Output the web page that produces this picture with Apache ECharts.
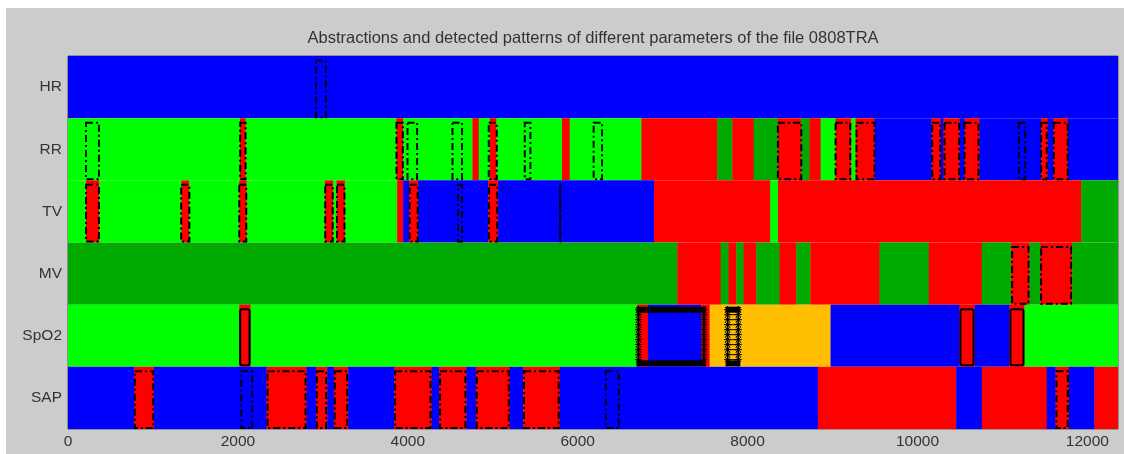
<!DOCTYPE html>
<html>
<head>
<meta charset="utf-8">
<script src="https://cdn.jsdelivr.net/npm/echarts@6/dist/echarts.min.js"></script>
<style>
html,body{margin:0;padding:0;background:#ffffff;width:1124px;height:454px;overflow:hidden;}
#chart{position:absolute;left:6px;top:8px;width:1118px;height:446px;background:#cccccc;}
</style>
</head>
<body>
<div id="chart"></div>
<script>
// ---------- data ----------
const titleText = 'Abstractions and detected patterns of different parameters of the file 0808TRA';
const categories = ['HR', 'RR', 'TV', 'MV', 'SpO2', 'SAP'];
const xTicks = [0, 2000, 4000, 6000, 8000, 10000, 12000];
const xMax = 12360;

// segments: [start, end, state]  (B=blue, G=green, D=dark green, R=red, O=orange)
const hrSegments = [[0, 12360, 'B']];
const rrSegments = [
  [0, 2024, 'G'], [2024, 2090, 'R'], [2090, 3866, 'G'], [3866, 3945, 'R'], [3945, 4761, 'G'],
  [4761, 4835, 'R'], [4835, 4965, 'G'], [4965, 5043, 'R'], [5043, 5815, 'G'], [5815, 5906, 'R'],
  [5906, 6749, 'G'], [6749, 7643, 'R'], [7643, 7820, 'D'], [7820, 8071, 'R'], [8071, 8356, 'D'],
  [8356, 8631, 'R'], [8631, 8729, 'D'], [8729, 8859, 'R'], [8859, 9035, 'G'], [9035, 9220, 'R'],
  [9220, 9271, 'G'], [9271, 9494, 'R'], [9494, 10165, 'B'], [10165, 10271, 'R'], [10271, 10306, 'B'],
  [10306, 10494, 'R'], [10494, 10553, 'B'], [10553, 10729, 'R'], [10729, 11455, 'B'], [11455, 11533, 'R'],
  [11533, 11600, 'B'], [11600, 11768, 'R'], [11768, 12360, 'B']
];
const tvSegments = [
  [0, 212, 'G'], [212, 368, 'R'], [368, 1337, 'G'], [1337, 1427, 'R'], [1427, 2015, 'G'],
  [2015, 2102, 'R'], [2102, 3024, 'G'], [3024, 3121, 'R'], [3121, 3161, 'G'], [3161, 3259, 'R'],
  [3259, 3874, 'G'], [3874, 3945, 'R'], [3945, 4015, 'B'], [4015, 4121, 'R'], [4121, 4945, 'B'],
  [4945, 5063, 'R'], [5063, 6898, 'B'], [6898, 8267, 'R'], [8267, 8357, 'G'], [8357, 11926, 'R'],
  [11926, 12360, 'D']
];
const mvSegments = [
  [0, 7173, 'D'], [7173, 7682, 'R'], [7682, 7776, 'D'], [7776, 7867, 'R'], [7867, 7953, 'D'],
  [7953, 8102, 'R'], [8102, 8376, 'D'], [8376, 8573, 'R'], [8573, 8738, 'D'], [8738, 9553, 'R'],
  [9553, 10133, 'D'], [10133, 10757, 'R'], [10757, 11102, 'D'], [11102, 11318, 'R'], [11318, 11443, 'D'],
  [11443, 11820, 'R'], [11820, 12360, 'D']
];
const spo2Segments = [
  [0, 2015, 'G'], [2015, 2149, 'R'], [2149, 6700, 'G'], [6700, 6827, 'R'], [6827, 7455, 'B'],
  [7455, 7553, 'R'], [7553, 8976, 'O'], [8976, 10494, 'B'], [10494, 10671, 'R'], [10671, 11082, 'B'],
  [11082, 11259, 'R'], [11259, 12360, 'G']
];
const sapSegments = [
  [0, 776, 'B'], [776, 1012, 'R'], [1012, 2337, 'B'], [2337, 2808, 'R'], [2808, 2918, 'B'],
  [2918, 3051, 'R'], [3051, 3129, 'B'], [3129, 3298, 'R'], [3298, 3839, 'B'], [3839, 4279, 'R'],
  [4279, 4368, 'B'], [4368, 4690, 'R'], [4690, 4800, 'B'], [4800, 5200, 'R'], [5200, 5357, 'B'],
  [5357, 5788, 'R'], [5788, 8827, 'B'], [8827, 10455, 'R'], [10455, 10757, 'B'], [10757, 11521, 'R'],
  [11521, 11624, 'B'], [11624, 11780, 'R'], [11780, 12082, 'B'], [12082, 12360, 'R']
];

// detected patterns (dash-dot boxes): [start, end]
const hrPatterns = [[2906, 3047]];
const rrPatterns = [
  [200, 376], [2015, 2102], [3855, 3953], [3985, 4121], [4514, 4650], [4941, 5059], [5365, 5455],
  [6176, 6298], [8345, 8643], [9024, 9220], [9271, 9506], [10161, 10279], [10306, 10502],
  [10541, 10729], [11180, 11279], [11443, 11533], [11592, 11780]
];
const tvPatterns = [
  [200, 376], [1320, 1440], [2004, 2110], [3016, 3128], [3155, 3266], [4010, 4128], [4580, 4650],
  [4945, 5063], [5780, 5806]
];
const mvPatterns = [[11102, 11318], [11443, 11820]];
const sapPatterns = [
  [776, 1012], [2028, 2180], [2337, 2808], [2918, 3051], [3129, 3298], [3839, 4279], [4368, 4690],
  [4800, 5200], [5357, 5788], [6318, 6494], [11624, 11780]
];
// SpO2 solid boxes and starred boxes
const spo2SolidPatterns = [[2015, 2149], [10494, 10671], [11082, 11259]];
const spo2StarPatterns = [[6680, 7520], [7729, 7926]];

// ---------- build ----------
const colorMap = { B: '#0000ff', G: '#00ff00', D: '#00aa00', R: '#ff0000', O: '#ffbf00' };
const rowSegments = [hrSegments, rrSegments, tvSegments, mvSegments, spo2Segments, sapSegments];
const rowPatterns = [hrPatterns, rrPatterns, tvPatterns, mvPatterns, [], sapPatterns];

const segData = [];
rowSegments.forEach((segs, r) => segs.forEach(s => segData.push([s[0], s[1], r, s[2]])));
const patData = [];
rowPatterns.forEach((pats, r) => pats.forEach(p => patData.push([p[0], p[1], r])));
const solidData = spo2SolidPatterns.map(p => [p[0], p[1], 4]);
const starData = spo2StarPatterns.map(p => [p[0], p[1], 4]);

function bandOf(api) {
  const a = api.coord([api.value(0), api.value(2)]);
  const b = api.coord([api.value(1), api.value(2)]);
  const h = api.size([0, 1])[1];
  return { x0: a[0], x1: b[0], yc: a[1], h: h, top: a[1] - h / 2 };
}

function asterisk(cx, cy, r) {
  const d = r * 0.7;
  return [
    { type: 'line', shape: { x1: cx - r, y1: cy, x2: cx + r, y2: cy } },
    { type: 'line', shape: { x1: cx, y1: cy - r, x2: cx, y2: cy + r } },
    { type: 'line', shape: { x1: cx - d, y1: cy - d, x2: cx + d, y2: cy + d } },
    { type: 'line', shape: { x1: cx - d, y1: cy + d, x2: cx + d, y2: cy - d } }
  ];
}

const FONT = 'Liberation Sans, Arial, sans-serif';
const chart = echarts.init(document.getElementById('chart'), null, { renderer: 'canvas' });
chart.setOption({
  backgroundColor: '#cccccc',
  animation: false,
  graphic: [{
    type: 'text', x: 587, y: 30.5, z: 10,
    style: {
      text: titleText, font: '16.5px ' + FONT, fill: '#333333',
      textAlign: 'center', textVerticalAlign: 'middle'
    }
  }],
  grid: { left: 62, right: 6, top: 48, bottom: 25, show: true, borderColor: '#555555', borderWidth: 1, backgroundColor: '#ffffff' },
  xAxis: {
    type: 'value', min: 0, max: xMax, interval: 2000,
    axisLine: { show: false },
    axisTick: { show: false },
    splitLine: { show: false },
    axisLabel: {
      color: '#333333', fontFamily: FONT, fontSize: 15.5, margin: 5,
      customValues: xTicks,
      formatter: function (v) { return String(v); }
    }
  },
  yAxis: {
    type: 'category', data: categories, inverse: true,
    axisLine: { show: false }, axisTick: { show: false }, splitLine: { show: false },
    axisLabel: { color: '#333333', fontFamily: FONT, fontSize: 15.5, margin: 6 }
  },
  series: [
    {
      type: 'custom', data: segData, z: 2, clip: true,
      encode: { x: [0, 1], y: 2 },
      renderItem: function (params, api) {
        const b = bandOf(api);
        const idx = params.dataIndex;
        return {
          type: 'rect',
          shape: { x: b.x0, y: b.top, width: b.x1 - b.x0 + 0.4, height: b.h },
          style: { fill: colorMap[segData[idx][3]] }
        };
      }
    },
    {
      type: 'custom', data: patData, z: 3,
      encode: { x: [0, 1], y: 2 },
      renderItem: function (params, api) {
        const b = bandOf(api);
        return {
          type: 'rect',
          shape: { x: b.x0 + 1, y: b.top + 4.5, width: b.x1 - b.x0 - 2, height: b.h - 5.5 },
          style: { fill: null, stroke: '#000000', lineWidth: 2, lineDash: [7, 3, 2, 3] }
        };
      }
    },
    {
      type: 'custom', data: solidData, z: 3,
      encode: { x: [0, 1], y: 2 },
      renderItem: function (params, api) {
        const b = bandOf(api);
        return {
          type: 'rect',
          shape: { x: b.x0 + 1, y: b.top + 4.5, width: b.x1 - b.x0 - 2, height: b.h - 6, r: 2 },
          style: { fill: null, stroke: '#000000', lineWidth: 2 }
        };
      }
    },
    {
      type: 'custom', data: starData, z: 4,
      encode: { x: [0, 1], y: 2 },
      renderItem: function (params, api) {
        const b = bandOf(api);
        const children = [];
        const top = b.top + 2, bot = b.top + b.h - 0.5;
        const lx = b.x0 + 3, rx = b.x1 - 3;
        children.push({ type: 'rect', shape: { x: lx - 2, y: top, width: rx - lx + 4, height: 6 }, style: { fill: '#000000' } });
        children.push({ type: 'rect', shape: { x: lx - 2, y: bot - 6, width: rx - lx + 4, height: 6 }, style: { fill: '#000000' } });
        children.push({ type: 'line', shape: { x1: lx, y1: top, x2: lx, y2: bot }, style: { stroke: '#000000', lineWidth: 1.5 } });
        children.push({ type: 'line', shape: { x1: rx, y1: top, x2: rx, y2: bot }, style: { stroke: '#000000', lineWidth: 1.5 } });
        const narrow = (rx - lx) < 20;
        for (let y = top + 3; y <= bot - 2; y += 5) {
          asterisk(lx, y, 3.5).forEach(c => { c.style = { stroke: '#000000', lineWidth: 1 }; children.push(c); });
          asterisk(rx, y, 3.5).forEach(c => { c.style = { stroke: '#000000', lineWidth: 1 }; children.push(c); });
          if (narrow) {
            children.push({ type: 'line', shape: { x1: lx, y1: y, x2: rx, y2: y }, style: { stroke: '#000000', lineWidth: 1 } });
          }
        }
        return { type: 'group', children: children };
      }
    }
  ]
});
</script>
</body>
</html>
